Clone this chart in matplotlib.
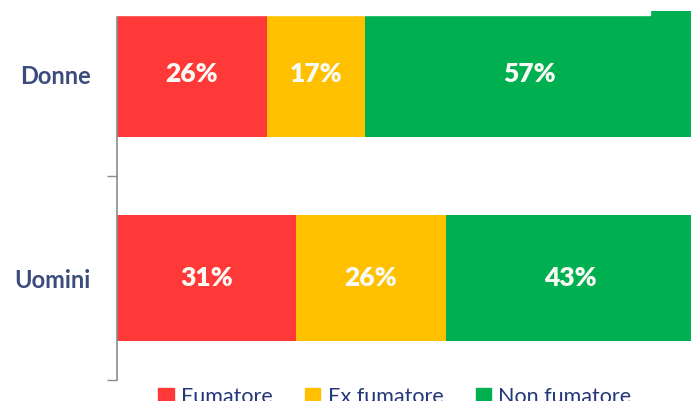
import matplotlib.pyplot as plt
from matplotlib.patches import Rectangle, Patch

plt.rcParams['font.family'] = ['Lato', 'DejaVu Sans']

groups = ['Uomini', 'Donne']
series = ['Fumatore', 'Ex fumatore', 'Non fumatore']
fumatore = [31, 26]
ex_fumatore = [26, 17]
non_fumatore = [43, 57]

colors = ['#FF3838', '#FFC000', '#00B050']
label_color = '#3B4C7C'
axis_color = '#8C8C8C'

fig = plt.figure(figsize=(6.91, 4.01), dpi=100)
# plot area runs past the top and right edge of the picture, as in the reference crop
ax = fig.add_axes([117 / 691, 21 / 401, 577 / 691, 408 / 401])

left = [0, 0]
containers = []
for name, vals, col in zip(series, [fumatore, ex_fumatore, non_fumatore], colors):
    c = ax.barh(groups, vals, left=left, height=0.62, color=col, label=name)
    containers.append(c)
    left = [a + b for a, b in zip(left, vals)]

for c, vals in zip(containers, [fumatore, ex_fumatore, non_fumatore]):
    ax.bar_label(c, labels=[f'{v}%' for v in vals], label_type='center',
                 color='#FAFAF5', fontsize=19, fontweight='heavy')

ax.set_xlim(0, 100)
ax.set_ylim(-0.5, 1.5)
for s in ['top', 'right', 'bottom']:
    ax.spines[s].set_visible(False)
ax.spines['left'].set_color(axis_color)
ax.spines['left'].set_linewidth(1.2)
ax.set_xticks([])
ax.tick_params(axis='y', which='major', length=0, pad=19,
               labelsize=17, labelcolor=label_color)
for t in ax.get_yticklabels():
    t.set_fontweight('bold')
ax.set_yticks([-0.5, 0.5, 1.5], minor=True)
ax.tick_params(axis='y', which='minor', length=7, width=1, color=axis_color)

handles = [Patch(color=col) for col in colors]
fig.legend(handles, series, loc='upper center', bbox_to_anchor=(395 / 691, 25 / 401),
           ncol=3, frameon=False, fontsize=15.5, labelcolor='#23377A',
           handlelength=0.7, handleheight=0.7, handletextpad=0.35,
           columnspacing=1.5, borderpad=0)

# white strip covering the top of the bars, as in the screenshot
fig.add_artist(Rectangle((0, 386 / 401), 650 / 691, 15 / 401,
                         transform=fig.transFigure, color='white', zorder=10))

fig.savefig('out.png', dpi=100)
